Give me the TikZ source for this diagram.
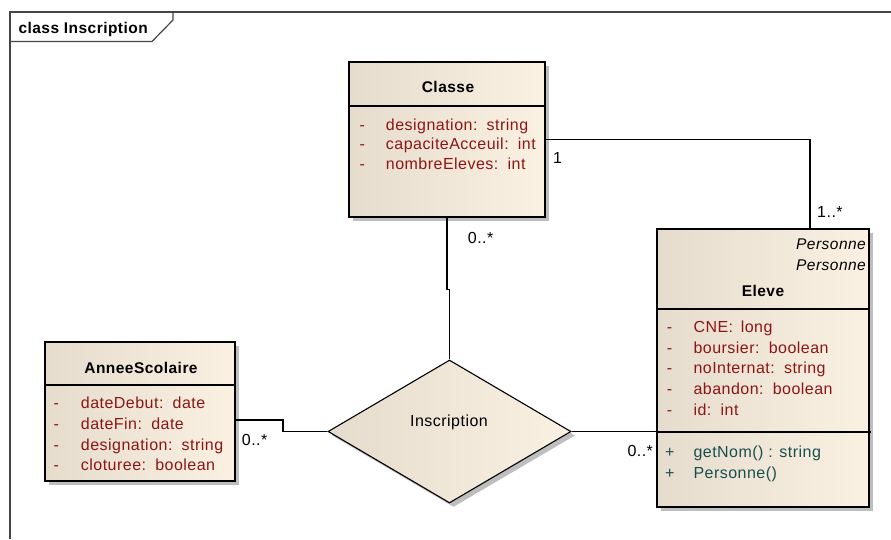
\documentclass[tikz,border=0pt]{standalone}
\usepackage{fontspec}
\setmainfont{Liberation Sans}[LetterSpace=3.0]
\usetikzlibrary{shapes.geometric}
\definecolor{attrred}{RGB}{140,22,22}
\definecolor{opteal}{RGB}{25,78,78}
\definecolor{beigeL}{RGB}{229,220,206}
\definecolor{beigeR}{RGB}{251,241,226}
\definecolor{shadowgray}{RGB}{190,190,190}
\definecolor{framegray}{RGB}{70,70,70}
\tikzset{
  umlshadow/.style={preaction={fill=shadowgray,transform canvas={shift={(4pt,-4pt)}}}},
  umlbox/.style={rectangle,draw=black,line width=1.3pt,inner sep=0pt,
    left color=beigeL,right color=beigeR,umlshadow},
  relation/.style={diamond,draw=black,line width=1.1pt,inner sep=0pt,
    left color=beigeL,right color=beigeR,umlshadow},
  sep/.style={draw=black,line width=1.1pt},
  conn/.style={draw=black,line width=1.1pt},
  txt/.style={inner sep=0pt,anchor=base west,font=\fontsize{16}{18}\selectfont},
  attr/.style={txt,text=attrred},
  oper/.style={txt,text=opteal},
  title/.style={inner sep=0pt,anchor=base,font=\fontsize{15.5}{18}\selectfont\bfseries},
  mult/.style={txt,text=black},
}
\begin{document}
\begin{tikzpicture}[x=1pt,y=-1pt]
\useasboundingbox[fill=white] (0,0) rectangle (891,539);

% diagram frame and its name tab
\draw[framegray,line width=1.2pt] (10,539) -- (10,12) -- (891,12);
\draw[framegray,line width=1.2pt] (10,41.5) -- (152,41.5) -- (173,20) -- (173,12);
\node[txt,font=\fontsize{15.5}{18}\selectfont\bfseries] (frameName) at (18.3,33.3) {class Inscription};

% classes
\node[umlbox,minimum width=196pt,minimum height=155pt] (classe) at (447,139.5) {};
\node[umlbox,minimum width=212pt,minimum height=278pt] (eleve) at (763,368) {};
\node[umlbox,minimum width=190pt,minimum height=139pt] (annee) at (140,411.5) {};

% association class diamond
\node[relation,minimum width=243pt,minimum height=143pt] (ins) at (449.5,431.5) {};
\node[txt,anchor=base] (insLabel) at (449,426) {Inscription};

% compartments
\draw[sep] (349,106) -- (545,106);
\draw[sep] (657,309) -- (869,309);
\draw[sep] (657,432) -- (871,432);
\draw[sep] (45,385) -- (235,385);

% Classe
\node[title] (classeTitle) at (448,92.7) {Classe};
\node[attr] (c1m) at (359.3,130) {-};
\node[attr] (c1) at (385.7,130) {designation:\, string};
\node[attr] (c2m) at (359.3,149.5) {-};
\node[attr] (c2) at (385.7,149.5) {capaciteAcceuil:\, int};
\node[attr] (c3m) at (359.3,169) {-};
\node[attr] (c3) at (385.7,169) {nombreEleves:\, int};

% Eleve
\node[txt,anchor=base east,font=\fontsize{15.5}{18}\selectfont\itshape] (eSt1) at (866,249.3) {Personne};
\node[txt,anchor=base east,font=\fontsize{15.5}{18}\selectfont\itshape] (eSt2) at (866,270.7) {Personne};
\node[title] (eleveTitle) at (763,296.7) {Eleve};
\node[attr] (e1m) at (666.7,332) {-};
\node[attr] (e1) at (693.3,332) {CNE:\, long};
\node[attr] (e2m) at (666.7,353) {-};
\node[attr] (e2) at (693.3,353) {boursier:\, boolean};
\node[attr] (e3m) at (666.7,373.7) {-};
\node[attr] (e3) at (693.3,373.7) {noInternat:\, string};
\node[attr] (e4m) at (666.7,394.4) {-};
\node[attr] (e4) at (693.3,394.4) {abandon:\, boolean};
\node[attr] (e5m) at (666.7,415) {-};
\node[attr] (e5) at (693.3,415) {id:\, int};
\node[oper] (o1m) at (665,457.3) {+};
\node[oper] (o1) at (693.3,457.3) {getNom() : string};
\node[oper] (o2m) at (665,478.3) {+};
\node[oper] (o2) at (693.3,478.3) {Personne()};

% AnneeScolaire
\node[title] (anneeTitle) at (141,373.3) {AnneeScolaire};
\node[attr] (a1m) at (53.3,408.3) {-};
\node[attr] (a1) at (80.7,408.3) {dateDebut:\, date};
\node[attr] (a2m) at (53.3,429.3) {-};
\node[attr] (a2) at (80.7,429.3) {dateFin:\, date};
\node[attr] (a3m) at (53.3,450) {-};
\node[attr] (a3) at (80.7,450) {designation:\, string};
\node[attr] (a4m) at (53.3,470.7) {-};
\node[attr] (a4) at (80.7,470.7) {cloturee:\, boolean};

% associations
\draw[conn] (classe.east) -| ([xshift=47pt]eleve.north);
\draw[conn] (classe.south) -- ++(0,72) -| (ins.north);
\draw[conn] (ins.west) -- ++(-44.5,0) |- ([yshift=-8.5pt]annee.east);
\draw[conn] (ins.east) -- (eleve.west |- ins.east);

% multiplicities
\node[mult] (mClasseA) at (553,163.3) {1};
\node[mult] (mEleveA) at (817,217.3) {1..*};
\node[mult] (mClasseI) at (467.7,243.3) {0..*};
\node[mult] (mAnneeI) at (241.7,445) {0..*};
\node[mult] (mEleveI) at (627.3,456) {0..*};
\end{tikzpicture}
\end{document}
